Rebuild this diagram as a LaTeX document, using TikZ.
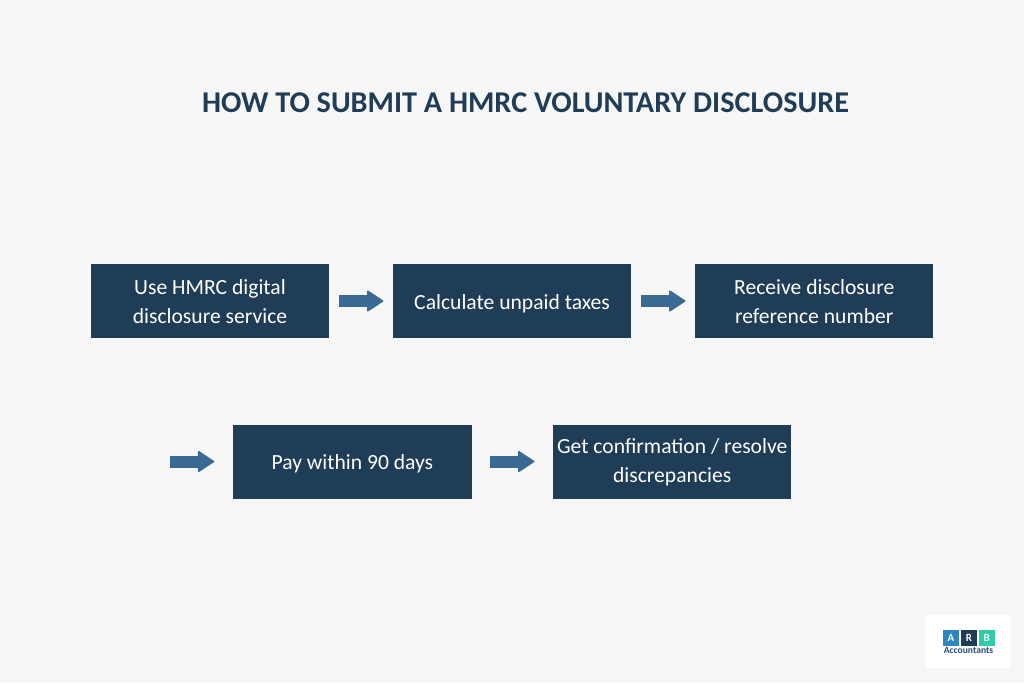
\documentclass[tikz,border=0pt]{standalone}
\usepackage{fontspec}
\setmainfont{Carlito}
\usepackage{tikz}
\usetikzlibrary{arrows.meta,positioning}
\definecolor{pagebg}{HTML}{F7F7F7}
\definecolor{boxblue}{HTML}{203D57}
\definecolor{arrowblue}{HTML}{3A6A94}
\definecolor{logoa}{HTML}{2E86C1}
\definecolor{logob}{HTML}{2ECDA7}
\definecolor{logotext}{HTML}{2A4A7F}
\tikzset{
    %Define style for boxes
    stepbox/.style={
           rectangle,
           fill=boxblue,
           text=white,
           minimum width=238pt,
           minimum height=74pt,
           inner sep=0pt,
           align=center,
           text height=45.5pt,
           font=\fontsize{21.6}{29}\selectfont},
    onelinebox/.style={
           stepbox,
           text height=19.5pt},
    logobox/.style={
           rectangle,
           minimum width=15.5pt,
           minimum height=15.5pt,
           inner sep=0pt,
           text=white,
           font=\fontsize{11}{11}\selectfont\bfseries},
    % Define arrow style
    pil/.style={
           draw=arrowblue,
           line width=12pt,
           -{Triangle[length=17pt,width=22pt,line width=1.5pt,round,fill=arrowblue]}}
}
\begin{document}
\begin{tikzpicture}[x=1pt,y=-1pt,node distance=63.7pt]
\fill[pagebg] (0,0) rectangle (1024,683);
\useasboundingbox (0,0) rectangle (1024,683);
\node[font=\fontsize{30.2}{36}\selectfont\bfseries,text=boxblue](title) at (525.5,103){HOW TO SUBMIT A HMRC VOLUNTARY DISCLOSURE};
% first row
\node[stepbox](1) at (210,301){Use HMRC digital\\disclosure service};
\node[onelinebox, right=of 1](2){Calculate unpaid taxes};
\node[stepbox, right=of 2](3){Receive disclosure\\reference number};
% second row
\node[onelinebox, minimum width=238.8pt](4) at (352.4,461.5){Pay within 90 days};
\node[stepbox, right=81pt of 4](5){Get confirmation / resolve\\discrepancies};
\coordinate[left=63pt of 4](start);
\path[pil,shorten <=10pt,shorten >=9.5pt]
    (1) edge (2)
    (2) edge (3);
\draw[pil,shorten >=18.5pt] (start) -- (4);
\draw[pil,shorten <=18pt,shorten >=18.5pt] (4) -- (5);
% logo
\fill[white] (926,615) rectangle (1010,668);
\node[logobox,fill=logoa](a) at (951,638){A};
\node[logobox,fill=boxblue,right=2pt of a](r){R};
\node[logobox,fill=logob,right=2pt of r](b){B};
\node[font=\fontsize{9.6}{10}\selectfont\bfseries,text=logotext,inner sep=0pt](acc) at (968.5,650.5){Accountants};
\end{tikzpicture}
\end{document}
